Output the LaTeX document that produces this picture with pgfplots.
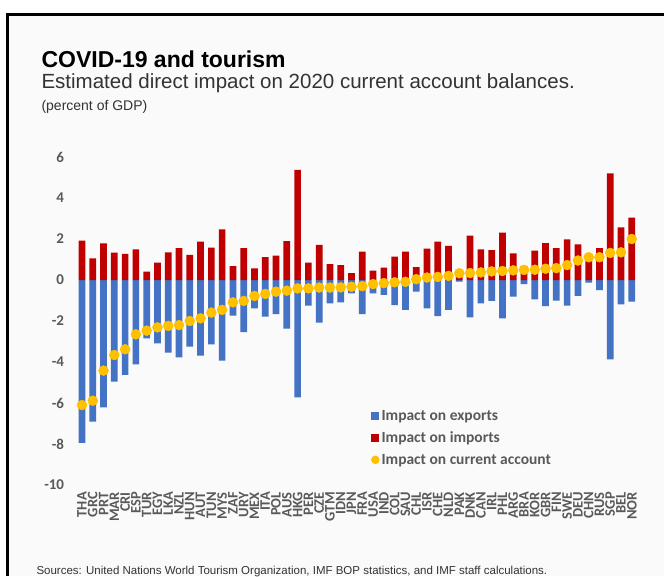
\documentclass[border=0pt]{standalone}
\usepackage{pgfplots}
\pgfplotsset{compat=1.18}
\usepackage{pgfplotstable}
\usepackage{fontspec}
\setmainfont{Liberation Sans}
\newfontfamily\carlito{Carlito}
\definecolor{cexp}{HTML}{4472C4}
\definecolor{cimp}{HTML}{C00000}
\definecolor{cca}{HTML}{FFC000}
\definecolor{tgrey}{HTML}{595959}
\definecolor{txt}{HTML}{333333}
\pgfplotstableread{
idx code exp imp ca
0 THA -7.94 1.92 -6.10
1 GRC -6.91 1.06 -5.89
2 PRT -6.21 1.79 -4.42
3 MAR -4.96 1.33 -3.66
4 CRI -4.63 1.27 -3.38
5 ESP -4.11 1.50 -2.65
6 TUR -2.85 0.41 -2.47
7 EGY -3.09 0.85 -2.31
8 LKA -3.54 1.35 -2.24
9 NZL -3.77 1.55 -2.20
10 HUN -3.25 1.22 -2.00
11 AUT -3.69 1.87 -1.87
12 TUN -3.14 1.58 -1.59
13 MYS -3.93 2.47 -1.46
14 ZAF -1.74 0.68 -1.09
15 URY -2.54 1.55 -1.02
16 MEX -1.38 0.57 -0.78
17 ITA -1.79 1.11 -0.68
18 POL -1.67 1.19 -0.57
19 AUS -2.37 1.90 -0.52
20 HKG -5.72 5.37 -0.41
21 PER -1.25 0.85 -0.41
22 CZE -2.08 1.71 -0.37
23 GTM -1.14 0.78 -0.37
24 IDN -1.09 0.73 -0.36
25 JPN -0.65 0.33 -0.33
26 FRA -1.67 1.38 -0.30
27 USA -0.65 0.46 -0.20
28 IND -0.73 0.60 -0.15
29 COL -1.22 1.14 -0.11
30 SAU -1.46 1.38 -0.09
31 CHL -0.57 0.63 0.04
32 ISR -1.38 1.53 0.12
33 CHE -1.76 1.87 0.15
34 NLD -1.46 1.66 0.20
35 PAK -0.08 0.41 0.33
36 DNK -1.82 2.16 0.34
37 CAN -1.14 1.50 0.37
38 IRL -1.02 1.46 0.42
39 PHL -1.87 2.31 0.44
40 ARG -0.81 1.30 0.47
41 BRA -0.20 0.69 0.49
42 KOR -0.94 1.43 0.50
43 GBR -1.27 1.80 0.55
44 FIN -1.01 1.56 0.58
45 SWE -1.25 1.98 0.73
46 DEU -0.77 1.74 0.95
47 CHN -0.13 1.24 1.11
48 RUS -0.49 1.55 1.11
49 SGP -3.87 5.20 1.32
50 BEL -1.19 2.57 1.35
51 NOR -1.06 3.04 2.00
}\data
\begin{document}
\begin{tikzpicture}[x=1pt,y=1pt]
\useasboundingbox[fill=white] (0,0) rectangle (664,576);
\fill[white!98!black] (8,0) rectangle (664,561);
\draw[line width=3pt,black] (7.5,0) -- (7.5,561.5) -- (664,561.5);
\node[anchor=base west,font=\bfseries\fontsize{23}{26}\selectfont] at (38,508) {COVID-19 and tourism};
\node[anchor=base west,text=txt,font=\fontsize{20.5}{24}\selectfont] at (38,487) {Estimated direct impact on 2020 current account balances.};
\node[anchor=base west,text=txt,font=\fontsize{14}{16}\selectfont] at (38,465) {(percent of GDP)};
\node[anchor=base west,text=txt,font=\fontsize{11.5}{13}\selectfont] at (33,2) {Sources: United Nations World Tourism Organization, IMF BOP statistics, and IMF staff calculations.};
\begin{axis}[
  at={(76.6pt,91pt)}, anchor=south west,
  scale only axis, width=560.6pt, height=328pt,
  xmin=-0.5, xmax=51.5, ymin=-10, ymax=6,
  ytick={-10,-8,...,6},
  xtick=data,
  xticklabels from table={\data}{code},
  /pgf/number format/assume math mode=true,
  axis line style={draw=none},
  major tick length=0pt,
  yticklabel style={font=\carlito\bfseries\fontsize{15}{16}\selectfont, text=tgrey, xshift=-9pt},
  xticklabel style={font=\carlito\bfseries\fontsize{14.5}{15}\selectfont, text=tgrey, yshift=-7pt, rotate=90, anchor=east, inner sep=0pt},
  legend style={at={(0.525,0.235)}, anchor=north west, draw=none, fill=none,
    font=\carlito\bfseries\fontsize{15.5}{17}\selectfont, text=tgrey,
    row sep=6pt, inner sep=0pt, /tikz/every even column/.append style={column sep=4pt}},
  legend cell align=left,
]
\addplot[ybar, bar width=6.7pt, bar shift=0pt, fill=cexp, draw=none,
  legend image code/.code={\fill[cexp] (0pt,-4pt) rectangle (8pt,4pt);}] table[x=idx,y=exp]{\data};
\addlegendentry{Impact on exports}
\addplot[ybar, bar width=6.7pt, bar shift=0pt, fill=cimp, draw=none,
  legend image code/.code={\fill[cimp] (0pt,-4pt) rectangle (8pt,4pt);}] table[x=idx,y=imp]{\data};
\addlegendentry{Impact on imports}
\addplot[only marks, mark=*, mark size=5pt, color=cca, mark options={draw=none, fill=cca},
  legend image code/.code={\fill[cca] (4pt,0pt) circle (4pt);}] table[x=idx,y=ca]{\data};
\addlegendentry{Impact on current account}
\end{axis}
\end{tikzpicture}
\end{document}
